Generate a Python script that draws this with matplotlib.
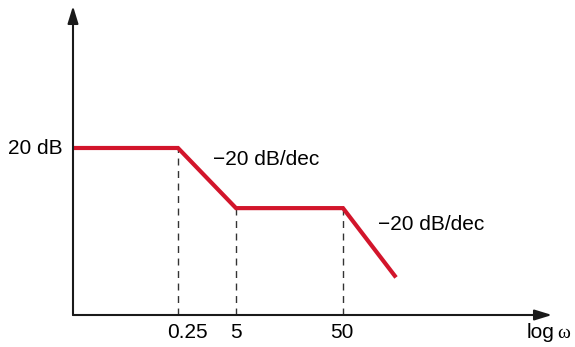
import matplotlib.pyplot as plt
import numpy as np

plt.rcParams['font.family'] = ['Liberation Sans', 'DejaVu Sans']

# schematic break points (log-omega positions) and asymptotic magnitude (dB)
x_pts = [0.0, 1.05, 1.63, 2.70, 3.23]
mag_db = [20, 20, 12.8, 12.8, 4.5]
break_idx = [1, 2, 3]
tick_labels = ['0.25', '5', '50']
slope_labels = ['\u221220 dB/dec', '\u221220 dB/dec']

RED = '#d2152b'
PX_X = 100.0   # pixels per x unit
PX_Y = 8.35    # pixels per dB
W, H = 575, 347

fig = plt.figure(figsize=(W / 100, H / 100), dpi=100)
ax = fig.add_axes([0, 0, 1, 1])
x0_px, y0_px = 73, 315
ax.set_xlim(-x0_px / PX_X, (W - x0_px) / PX_X)
ax.set_ylim(-(H - y0_px) / PX_Y, y0_px / PX_Y)
ax.axis('off')

# axes with arrows
x_end = (552 - x0_px) / PX_X
y_end = (y0_px - 6) / PX_Y
arrow = dict(arrowstyle='-|>,head_length=0.65,head_width=0.2', color='#1a1a1a',
             lw=1.5, mutation_scale=16, shrinkA=0, shrinkB=0)
ax.annotate('', xy=(x_end, 0), xytext=(0, 0), arrowprops=arrow)
ax.annotate('', xy=(0, y_end), xytext=(0, 0), arrowprops=arrow)

# dashed drop lines at break frequencies
for i in break_idx:
    ax.plot([x_pts[i], x_pts[i]], [0, mag_db[i]], color='#333333', lw=1.0,
            dashes=(5, 4))

# asymptotic magnitude
ax.plot(x_pts, mag_db, color=RED, lw=3.0, solid_capstyle='butt',
        solid_joinstyle='miter')

fs = 15
ax.text(-0.1, mag_db[0], '20 dB', ha='right', va='center', fontsize=fs)
label_off = [0.09, 0.0, -0.01]
for i, lab, off in zip(break_idx, tick_labels, label_off):
    ax.text(x_pts[i] + off, -2.15, lab, ha='center', va='center', fontsize=fs)
ax.text(4.82, -2.8, 'log', ha='right', va='baseline', fontsize=fs)
ax.text(4.84, -2.8, '\u03c9', ha='left', va='baseline', fontsize=14,
        family=['Liberation Serif', 'DejaVu Serif'])

ax.text(x_pts[1] + 0.35, 18.6, slope_labels[0], ha='left', va='center', fontsize=fs)
ax.text(x_pts[3] + 0.35, 10.8, slope_labels[1], ha='left', va='center', fontsize=fs)

fig.savefig('out.png', dpi=100)
